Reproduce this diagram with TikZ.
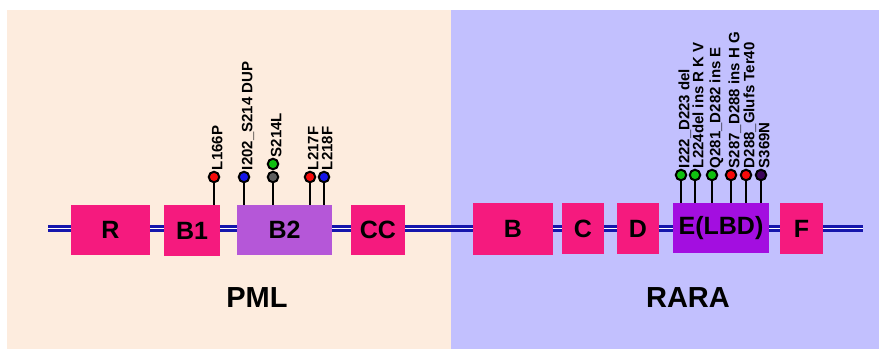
\documentclass[tikz,border=0pt]{standalone}
\usepackage{fontspec}
\setmainfont{Liberation Sans}
\usetikzlibrary{calc}

\definecolor{pmlbg}{HTML}{FDECDE}
\definecolor{rarabg}{HTML}{C2C0FE}
\definecolor{domain}{HTML}{F51A7E}
\definecolor{bzip}{HTML}{B557D8}
\definecolor{lbd}{HTML}{A30EE0}
\definecolor{chain}{HTML}{1616AC}
\definecolor{mred}{HTML}{F50A0A}
\definecolor{mblue}{HTML}{1414E6}
\definecolor{mgreen}{HTML}{10C010}
\definecolor{mgrey}{HTML}{5E5E5E}
\definecolor{mpurple}{HTML}{3C0558}

\begin{document}
\begin{tikzpicture}[x=1pt,y=1pt,
  box/.style={rectangle, fill=domain, inner sep=0pt,
    font=\fontsize{25}{25}\selectfont\bfseries},
  pin/.style={circle, draw=black, line width=2pt, minimum size=10.5pt, inner sep=0pt},
  stem/.style={draw=black, line width=1.6pt},
  mut/.style={rotate=90, anchor=west, inner sep=0pt,
    font=\fontsize{15}{15}\selectfont\bfseries, text height=10.8pt, text depth=0pt},
  title/.style={font=\fontsize{29}{29}\selectfont\bfseries, inner sep=0pt},
  backbone/.style={draw=chain, line width=2.4pt, double=white, double distance=1.6pt},
]
\useasboundingbox (0,0) rectangle (879,349);

% two protein panels
\fill[pmlbg] (7,0) rectangle (451,339);
\fill[rarabg] (451,0) rectangle (879,339);

% chain ends
\coordinate (ls) at (48,120.5);
\coordinate (le) at (863,120.5);

% PML domains
\node[box, minimum width=79pt, minimum height=50pt] (R)  at (110.5,119) {R};
\node[box, minimum width=56pt, minimum height=51pt] (B1) at (192,118.5) {B1};
\node[box, fill=bzip, minimum width=95pt, minimum height=50pt] (B2) at (284.5,119) {B2};
\node[box, minimum width=54pt, minimum height=50pt] (CC) at (378,119) {CC};

% RARA domains
\node[box, minimum width=80pt, minimum height=52pt] (B) at (513,120) {B};
\node[box, minimum width=42pt, minimum height=51pt] (C) at (583,120.5) {C};
\node[box, minimum width=42pt, minimum height=51pt] (D) at (638,120.5) {D};
\node[box, fill=lbd, minimum width=96pt, minimum height=50pt] (E) at (721,121) {E(LBD)};
\node[box, minimum width=43pt, minimum height=51pt] (F) at (801.5,120.5) {F};

% fusion chain between the domains
\foreach \a/\b in {R/B1, B1/B2, B2/CC, CC/B, B/C, C/D, D/E, E/F}
  \draw[backbone] (\a.east |- ls) -- (\b.west |- ls);
\draw[backbone] (ls) -- (R.west |- ls);
\draw[backbone] (F.east |- le) -- (le);

% PML mutations
\node[pin, fill=mred]   (p1) at (214,172) {};
\node[pin, fill=mblue]  (p2) at (244,172) {};
\node[pin, fill=mgrey]  (p3) at (273,172) {};
\node[pin, fill=mgreen] (p3g) at (273,185) {};
\node[pin, fill=mred]   (p4) at (310,172) {};
\node[pin, fill=mblue]  (p5) at (324,172) {};
\draw[stem] (p1.south) -- (p1.south |- B1.north);
\foreach \p in {p2,p3,p4,p5}
  \draw[stem] (\p.south) -- (\p.south |- B2.north);
\node[mut] (t1) at ([xshift=3pt,yshift=0.5pt]p1.north) {L166P};
\node[mut] (t2) at ([xshift=3pt,yshift=0.5pt]p2.north) {I202\_S214 DUP};
\node[mut] (t3) at ([xshift=3pt,yshift=0.5pt]p3g.north) {S214L};
\node[mut] (t4) at ([xshift=3pt,yshift=0.5pt]p4.north) {L217F};
\node[mut] (t5) at ([xshift=3pt,yshift=0.5pt]p5.north) {L218F};

% RARA mutations
\node[pin, fill=mgreen]  (q1) at (681,174) {};
\node[pin, fill=mgreen]  (q2) at (695,174) {};
\node[pin, fill=mgreen]  (q3) at (712,174) {};
\node[pin, fill=mred]    (q4) at (731,174) {};
\node[pin, fill=mred]    (q5) at (746,174) {};
\node[pin, fill=mpurple] (q6) at (761,174) {};
\foreach \q in {q1,q2,q3,q4,q5,q6}
  \draw[stem] (\q.south) -- (\q.south |- E.north);
\node[mut] (u1) at ([xshift=3pt,yshift=0.5pt]q1.north) {I222\_D223 del};
\node[mut] (u2) at ([xshift=3pt,yshift=0.5pt]q2.north) {L224del ins R K V};
\node[mut] (u3) at ([xshift=3pt,yshift=0.5pt]q3.north) {Q281\_D282 ins E};
\node[mut] (u4) at ([xshift=3pt,yshift=0.5pt]q4.north) {S287\_D288 ins H G};
\node[mut] (u5) at ([xshift=3pt,yshift=0.5pt]q5.north) {D288\_Glufs Ter40};
\node[mut] (u6) at ([xshift=3pt,yshift=0.5pt]q6.north) {S369N};

% protein names
\node[title] (pml)  at (257,51.5) {PML};
\node[title] (rara) at (688,51.5) {RARA};
\end{tikzpicture}
\end{document}
